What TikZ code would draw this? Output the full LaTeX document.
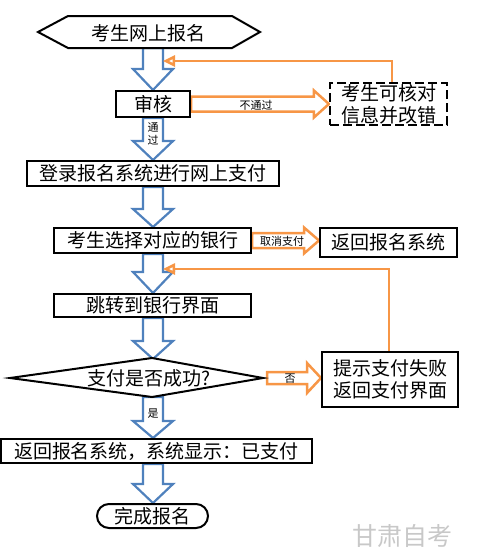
\documentclass[tikz,border=0pt]{standalone}
\usepackage{fontspec}
\setmainfont{Noto Sans CJK SC}
\usetikzlibrary{calc,arrows.meta,backgrounds}
\definecolor{ablue}{RGB}{79,129,189}
\definecolor{aorange}{RGB}{247,150,70}
\definecolor{wmgray}{RGB}{200,200,200}
\newcommand\bigtxt{\fontsize{19}{22}\selectfont}
\newcommand\smalltxt{\fontsize{11}{13}\selectfont}
\newcommand\bluearrow[3]{%
  \draw[barrow] let \p1=(#1), \p2=(#2) in
   (\x2-10pt,\y1) -- (\x2-10pt,\y2+#3pt) -- (\x2-20pt,\y2+#3pt) -- (\x2,\y2)
   -- (\x2+20pt,\y2+#3pt) -- (\x2+10pt,\y2+#3pt) -- (\x2+10pt,\y1) -- cycle;}
\newcommand\orangearrow[5]{%
  \draw[oarrow] let \p1=(#1), \p2=(#2) in
   (\x1,\y1+#3pt) -- (\x2-#5pt,\y1+#3pt) -- (\x2-#5pt,\y1+#4pt) -- (\x2,\y1)
   -- (\x2-#5pt,\y1-#4pt) -- (\x2-#5pt,\y1-#3pt) -- (\x1,\y1-#3pt) -- cycle;}
\begin{document}
\begin{tikzpicture}[x=1pt,y=-1pt,
  box/.style={draw, line width=2pt, fill=white, inner sep=0pt, font=\bigtxt, align=center},
  dbox/.style={box, dash pattern=on 9pt off 4pt, line width=2.2pt},
  barrow/.style={draw=ablue, line width=2.2pt, line join=miter, fill=white},
  oarrow/.style={draw=aorange, line width=2.5pt, line join=miter, fill=white},
  fb/.style={draw=aorange, line width=2.5pt, -{Triangle[open,length=12pt,width=11pt]}},
  lbl/.style={font=\smalltxt, inner sep=0pt, align=center},
  shapeline/.style={draw, line width=2pt, fill=white}]
\useasboundingbox (0,0) rectangle (478,560);

% hexagon start
\draw[shapeline] (38,32) -- (68,16) -- (232,16) -- (260,32) -- (232,48) -- (68,48) -- cycle;
\node[font=\bigtxt, inner sep=0pt] (start) at (148,33) {考生网上报名};
\coordinate (startS) at (153,48);

\node[box, minimum width=74pt, minimum height=26pt] (shenhe) at (153,104) {审核};
\node[dbox, minimum width=117pt, minimum height=42pt] (chk) at (388.5,104) {考生可核对\\信息并改错};
\node[box, minimum width=252pt, minimum height=25pt] (login) at (153,173.5) {登录报名系统进行网上支付};
\node[box, minimum width=197pt, minimum height=25pt] (choose) at (152.5,240.5) {考生选择对应的银行};
\node[box, minimum width=137pt, minimum height=29pt] (ret1) at (388.5,242.5) {返回报名系统};
\node[box, minimum width=197pt, minimum height=23pt] (jump) at (152.5,305.5) {跳转到银行界面};

% diamond
\draw[shapeline] (10,378) -- (152,358) -- (263,378) -- (152,397) -- cycle;
\node[font=\bigtxt, inner sep=0pt] (dia) at (149,378) {支付是否成功?};
\coordinate (diaN) at (152,359);
\coordinate (diaS) at (152,397);
\coordinate (diaE) at (267,378);

\node[box, minimum width=136pt, minimum height=55pt] (prompt) at (390,379.5) {提示支付失败\\返回支付界面};
\node[box, minimum width=311pt, minimum height=24pt] (retpay) at (156.5,451) {返回报名系统，系统显示：已支付};
\node[box, rounded corners=12pt, minimum width=111pt, minimum height=24pt] (done) at (152.5,516) {完成报名};

\begin{scope}[on background layer]
  \bluearrow{startS}{shenhe.north -| startS}{21}
  \bluearrow{shenhe.south}{login.north -| startS}{19}
  \bluearrow{login.south}{choose.north -| startS}{18}
  \bluearrow{choose.south}{jump.north -| startS}{21}
  \bluearrow{jump.south}{diaN -| startS}{18}
  \bluearrow{diaS}{retpay.north -| startS}{17}
  \bluearrow{retpay.south}{done.north -| startS}{19}
  \orangearrow{shenhe.east}{chk.west}{7.5}{13.5}{15}
  \orangearrow{choose.east}{ret1.west}{7.5}{13}{15}
  \orangearrow{diaE}{prompt.west}{6}{15}{14}
  \coordinate (fbt1) at (163,61);
  \draw[fb] ($(chk.north)+(3.5,0)$) |- (fbt1);
  \coordinate (fbt2) at (163,269);
  \draw[fb] ($(prompt.north)+(-1,0)$) |- (fbt2);
\end{scope}

\node[lbl] (l1) at (256,105) {不通过};
\node[lbl] (l2) at (153,134) {通\\过};
\node[lbl] (l3) at (282,241) {取消支付};
\node[lbl] (l4) at (290,379) {否};
\node[lbl] (l5) at (153,414) {是};

\node[font=\fontsize{25}{25}\selectfont, text=wmgray, inner sep=0pt] (wm) at (402,536) {甘肃自考};
\end{tikzpicture}
\end{document}
